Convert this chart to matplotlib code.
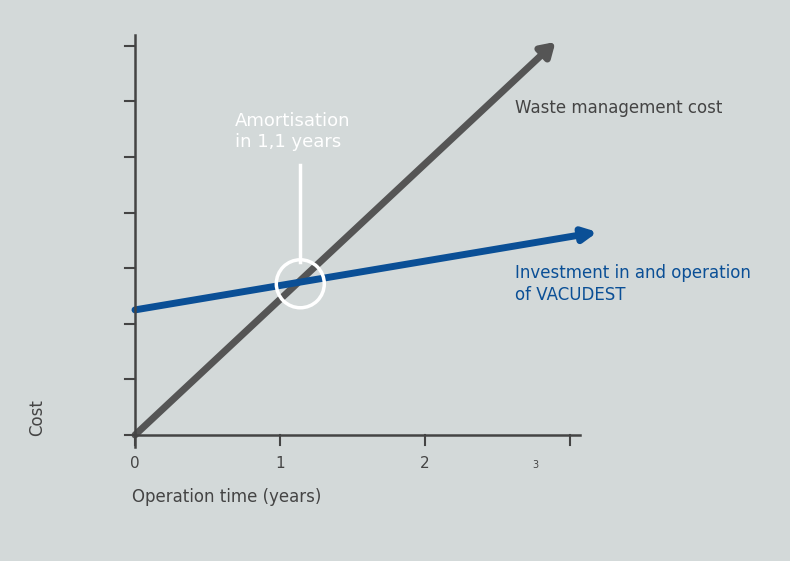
import matplotlib.pyplot as plt
from matplotlib.patches import FancyArrowPatch, Circle

# data (cost units vs operation years)
waste_x = [0, 2.9]
waste_y = [0, 7.07]
invest_x = [0, 3.19]
invest_y = [2.25, 3.65]
x_ticks = [0, 1, 2, 3]
y_ticks = [0, 1, 2, 3, 4, 5, 6, 7]
break_even = (1.14, 2.72)

bg = '#d3d9d9'
gray = '#555555'
blue = '#0a4f96'

fig = plt.figure(figsize=(7.9, 5.61), dpi=100, facecolor=bg)
ax = fig.add_axes([0, 0, 1, 1])
ax.set_facecolor(bg)
ax.set_xlim(-135 / 145, 655 / 145)
ax.set_ylim(-126 / 55.6, 435 / 55.6)
ax.axis('off')

# axes
ax.plot([0, 0], [-12 / 55.6, 400 / 55.6], color='#444444', lw=1.8)
ax.plot([0, 3.07], [0, 0], color='#444444', lw=1.8)
for t in y_ticks:
    ax.plot([-10 / 145, 0], [t, t], color='#444444', lw=1.5)
for t in x_ticks:
    ax.plot([t, t], [0, -10 / 55.6], color='#444444', lw=1.5)
for t in x_ticks[:3]:
    ax.text(t, -28 / 55.6, str(t), ha='center', va='center', fontsize=11, color='#444444')
ax.text(2.76, -30 / 55.6, '3', ha='center', va='center', fontsize=7, color='#444444')

# lines with arrows
ax.add_patch(FancyArrowPatch((waste_x[0], waste_y[0]), (waste_x[1], waste_y[1]),
                             arrowstyle='-|>,head_length=8,head_width=5', color=gray, lw=5,
                             shrinkA=0, shrinkB=0))
ax.add_patch(FancyArrowPatch((invest_x[0], invest_y[0]), (invest_x[1], invest_y[1]),
                             arrowstyle='-|>,head_length=8,head_width=4', color=blue, lw=5,
                             shrinkA=0, shrinkB=0))

# amortisation marker
ax.add_patch(Circle(break_even, 0.165, fill=False, ec='white', lw=2.5, transform=ax.transData))
ax.add_patch(Circle(break_even, 0.165, fill=False, ec='none'))
ax.plot([break_even[0], break_even[0]], [(435 - 262) / 55.6, (435 - 165) / 55.6], color='white', lw=2.5)
# fix circle aspect: draw as ellipse in data units
ax.patches[-2].remove()
from matplotlib.patches import Ellipse
ax.add_patch(Ellipse(break_even, 48 / 145, 48 / 55.6, fill=False, ec='white', lw=2.5))

ax.text(100 / 145, (435 - 112) / 55.6, 'Amortisation\nin 1,1 years', color='white',
        fontsize=13, va='top', ha='left', linespacing=1.2)
ax.text(380 / 145, (435 - 108) / 55.6, 'Waste management cost', color='#444444',
        fontsize=12, va='center', ha='left')
ax.text(380 / 145, (435 - 264) / 55.6, 'Investment in and operation\nof VACUDEST', color=blue,
        fontsize=12, va='top', ha='left', linespacing=1.3)
ax.text(-98 / 145, (435 - 418) / 55.6, 'Cost', color='#444444', fontsize=12,
        rotation=90, ha='center', va='center')
ax.text(-3 / 145, (435 - 497) / 55.6, 'Operation time (years)', color='#444444',
        fontsize=12, ha='left', va='center')

fig.savefig('out.png', dpi=100, facecolor=bg)
